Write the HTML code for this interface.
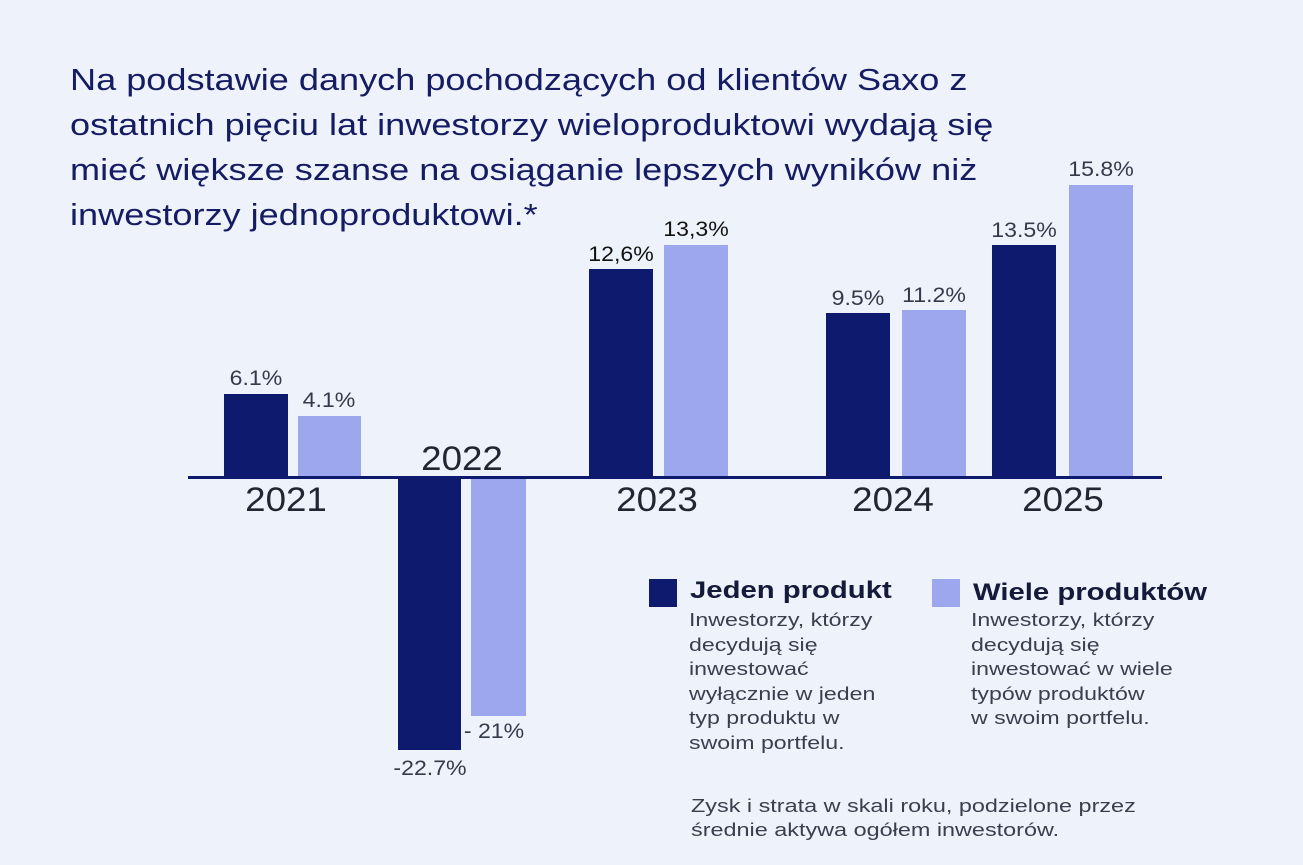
<!DOCTYPE html>
<html><head><meta charset="utf-8"><style>
html,body{margin:0;padding:0}
body{width:1303px;height:865px;background:#eef3fb;position:relative;overflow:hidden;font-family:"Liberation Sans",sans-serif}
.t{position:absolute;left:70px;top:57px;font-size:31px;line-height:45px;color:#161c63;transform:scaleX(1.165);transform-origin:0 0;white-space:nowrap}
.b{position:absolute}
.d{background:#0e1a6e}
.l{background:#9ca7ee}
.v{position:absolute;font-size:21px;color:#333a4a;transform:translateX(-50%) scaleX(1.1);white-space:nowrap}
.y{position:absolute;font-size:34px;color:#222633;transform:translateX(-50%) scaleX(1.08)}
.lg{position:absolute;font-size:24px;font-weight:bold;color:#141a3a;transform:scaleX(1.22);transform-origin:0 0;white-space:nowrap}
.ds{position:absolute;font-size:18.5px;line-height:24.6px;color:#3a3f4e;transform:scaleX(1.25);transform-origin:0 0;white-space:nowrap}
</style></head><body>
<div class="t">Na podstawie danych pochodzących od klientów Saxo z<br>ostatnich pięciu lat inwestorzy wieloproduktowi wydają się<br>mieć większe szanse na osiąganie lepszych wyników niż<br>inwestorzy jednoproduktowi.*</div>

<div class="b d" style="left:224px;top:394px;width:64px;height:84px"></div>
<div class="b l" style="left:298px;top:416px;width:63px;height:62px"></div>
<div class="b d" style="left:398px;top:478px;width:63px;height:272px"></div>
<div class="b l" style="left:471px;top:478px;width:55px;height:238px"></div>
<div class="b d" style="left:589px;top:269px;width:64px;height:209px"></div>
<div class="b l" style="left:664px;top:245px;width:64px;height:233px"></div>
<div class="b d" style="left:826px;top:313px;width:64px;height:165px"></div>
<div class="b l" style="left:902px;top:310px;width:64px;height:168px"></div>
<div class="b d" style="left:992px;top:245px;width:64px;height:233px"></div>
<div class="b l" style="left:1069px;top:185px;width:64px;height:293px"></div>
<div class="b" style="left:188px;top:476px;width:974px;height:3px;background:#0e1a6e"></div>

<div class="v" style="left:256px;top:367px">6.1%</div>
<div class="v" style="left:329px;top:389px">4.1%</div>
<div class="v" style="left:430px;top:757px">-22.7%</div>
<div class="v" style="left:494px;top:720px">- 21%</div>
<div class="v" style="left:621px;top:243px;color:#111">12,6%</div>
<div class="v" style="left:696px;top:218px;color:#111">13,3%</div>
<div class="v" style="left:858px;top:287px">9.5%</div>
<div class="v" style="left:934px;top:284px">11.2%</div>
<div class="v" style="left:1024px;top:219px">13.5%</div>
<div class="v" style="left:1101px;top:158px">15.8%</div>

<div class="y" style="left:286px;top:481px">2021</div>
<div class="y" style="left:462px;top:440px">2022</div>
<div class="y" style="left:657px;top:481px">2023</div>
<div class="y" style="left:893px;top:481px">2024</div>
<div class="y" style="left:1063px;top:481px">2025</div>

<div class="b d" style="left:649px;top:579px;width:28px;height:28px"></div>
<div class="lg" style="left:690px;top:577px">Jeden produkt</div>
<div class="ds" style="left:689px;top:608px">Inwestorzy, którzy<br>decydują się<br>inwestować<br>wyłącznie w jeden<br>typ produktu w<br>swoim portfelu.</div>
<div class="b l" style="left:932px;top:579px;width:28px;height:28px"></div>
<div class="lg" style="left:973px;top:579px">Wiele produktów</div>
<div class="ds" style="left:971px;top:608px">Inwestorzy, którzy<br>decydują się<br>inwestować w wiele<br>typów produktów<br>w swoim portfelu.</div>

<div class="ds" style="left:691px;top:794px;font-size:18px;line-height:24px;transform:scaleX(1.3)">Zysk i strata w skali roku, podzielone przez<br>średnie aktywa ogółem inwestorów.</div>
</body></html>
